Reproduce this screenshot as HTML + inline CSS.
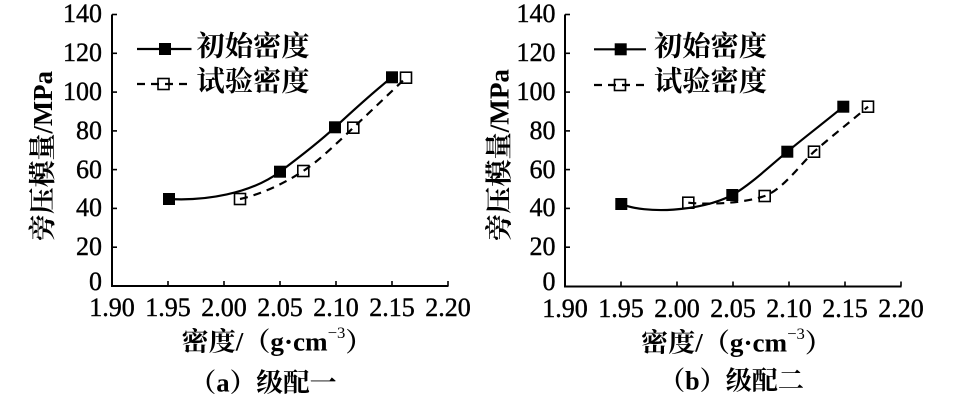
<!DOCTYPE html>
<html>
<head>
<meta charset="utf-8">
<style>
  html, body { margin: 0; padding: 0; background: #fff; }
  #wrap { position: relative; width: 954px; height: 405px; overflow: hidden; }
  svg { display: block; position: absolute; left: 0; top: 0; }
  text, tspan { font-family: "Liberation Serif", "Times New Roman", "Tinos", "DejaVu Serif", "Noto Serif CJK SC", serif; }
  .cjk { font-weight: bold; fill: #000; }
  .n { position: absolute; width: 60px; height: 26px; line-height: 26px; font-size: 26px;
       font-family: "Liberation Serif", "Times New Roman", serif; color: #000;
       -webkit-text-stroke: 0.4px #000; white-space: nowrap; }
  .r { text-align: right; }
  .c { text-align: center; }
</style>
</head>
<body>
<div id="wrap">
<svg width="954" height="405" viewBox="0 0 954 405" xmlns="http://www.w3.org/2000/svg">
  <rect width="954" height="405" fill="#fff"/>

  <!-- ================= Panel (a) ================= -->
  <g>
    <path d="M112,14.5 V286 H448.5" fill="none" stroke="#000" stroke-width="2"/>
    <g stroke="#000" stroke-width="1.6">
      <line x1="112" y1="14.5" x2="117" y2="14.5"/>
      <line x1="112" y1="53.3" x2="117" y2="53.3"/>
      <line x1="112" y1="92.1" x2="117" y2="92.1"/>
      <line x1="112" y1="130.9" x2="117" y2="130.9"/>
      <line x1="112" y1="169.6" x2="117" y2="169.6"/>
      <line x1="112" y1="208.4" x2="117" y2="208.4"/>
      <line x1="112" y1="247.2" x2="117" y2="247.2"/>
      <line x1="168" y1="286" x2="168" y2="281"/>
      <line x1="224" y1="286" x2="224" y2="281"/>
      <line x1="280" y1="286" x2="280" y2="281"/>
      <line x1="336" y1="286" x2="336" y2="281"/>
      <line x1="392" y1="286" x2="392" y2="281"/>
      <line x1="448" y1="286" x2="448" y2="281"/>
    </g>

    <path d="M169,199 C205,201 250,194 280,171.7 C295,160.5 318,143 335,127.3 C352,111.6 372,93 392,77.3"
          fill="none" stroke="#000" stroke-width="2.2"/>
    <path d="M240,199 C262,194 285,183 303.3,171 C320,160 338,142 353.3,127.7 C372,110 390,93 406,77.7"
          fill="none" stroke="#000" stroke-width="2.2" stroke-dasharray="8,6"/>
    <g fill="#000">
      <rect x="163" y="193" width="12" height="12"/>
      <rect x="274" y="165.7" width="12" height="12"/>
      <rect x="329" y="121.3" width="12" height="12"/>
      <rect x="386" y="71.3" width="12" height="12"/>
    </g>
    <g fill="none" stroke="#000" stroke-width="1.6">
      <rect x="234.5" y="193.5" width="11" height="11"/>
      <rect x="297.8" y="165.5" width="11" height="11"/>
      <rect x="347.8" y="122.2" width="11" height="11"/>
      <rect x="400.5" y="72.2" width="11" height="11"/>
    </g>

    <line x1="137" y1="49" x2="191.5" y2="49" stroke="#000" stroke-width="2.2"/>
    <rect x="159" y="43" width="12" height="12" fill="#000"/>
    <line x1="137" y1="84" x2="191.5" y2="84" stroke="#000" stroke-width="2.2" stroke-dasharray="8,6"/>
    <rect x="158" y="78.5" width="11" height="11" fill="none" stroke="#000" stroke-width="1.6"/>
    <text class="cjk" x="196.5" y="47" font-size="28" dominant-baseline="central" textLength="113" lengthAdjust="spacingAndGlyphs">初始密度</text>
    <text class="cjk" x="196.5" y="82" font-size="28" dominant-baseline="central" textLength="113" lengthAdjust="spacingAndGlyphs">试验密度</text>

    <text class="cjk" font-size="27" text-anchor="middle" dominant-baseline="central"
          transform="translate(43,156) rotate(-90)" textLength="170" lengthAdjust="spacingAndGlyphs">旁压模量/MPa</text>

    <text class="cjk" x="277" y="342" font-size="26" text-anchor="middle" dominant-baseline="central"
          textLength="191" lengthAdjust="spacingAndGlyphs">密度/（g·cm<tspan font-size="16" font-weight="normal" dy="-9">−3</tspan><tspan dy="9">）</tspan></text>

    <text class="cjk" x="263" y="383" font-size="26" text-anchor="middle" dominant-baseline="central"
          textLength="147" lengthAdjust="spacingAndGlyphs">（a）级配一</text>
  </g>

  <!-- ================= Panel (b) ================= -->
  <g>
    <path d="M565,14.5 V286.5 H901.5" fill="none" stroke="#000" stroke-width="2"/>
    <g stroke="#000" stroke-width="1.6">
      <line x1="565" y1="14.5" x2="570" y2="14.5"/>
      <line x1="565" y1="53.3" x2="570" y2="53.3"/>
      <line x1="565" y1="92.1" x2="570" y2="92.1"/>
      <line x1="565" y1="130.9" x2="570" y2="130.9"/>
      <line x1="565" y1="169.6" x2="570" y2="169.6"/>
      <line x1="565" y1="208.4" x2="570" y2="208.4"/>
      <line x1="565" y1="247.2" x2="570" y2="247.2"/>
      <line x1="621" y1="286.5" x2="621" y2="281.5"/>
      <line x1="677" y1="286.5" x2="677" y2="281.5"/>
      <line x1="733" y1="286.5" x2="733" y2="281.5"/>
      <line x1="789" y1="286.5" x2="789" y2="281.5"/>
      <line x1="845" y1="286.5" x2="845" y2="281.5"/>
      <line x1="901" y1="286.5" x2="901" y2="281.5"/>
    </g>

    <path d="M621.3,204 C645,214 700,212 732.3,195 C750,185 770,166 787.3,151.7 C805,137 826,121 843.3,106.7"
          fill="none" stroke="#000" stroke-width="2.2"/>
    <path d="M688.3,202.7 C710,205 745,203 764.7,196 C782,190 800,165 814,151.7 C832,136 850,122 868,106.7"
          fill="none" stroke="#000" stroke-width="2.2" stroke-dasharray="8,6"/>
    <g fill="#000">
      <rect x="615.3" y="198" width="12" height="12"/>
      <rect x="726.3" y="189" width="12" height="12"/>
      <rect x="781.3" y="145.7" width="12" height="12"/>
      <rect x="837.3" y="100.7" width="12" height="12"/>
    </g>
    <g fill="none" stroke="#000" stroke-width="1.6">
      <rect x="682.8" y="197.2" width="11" height="11"/>
      <rect x="759.2" y="190.5" width="11" height="11"/>
      <rect x="808.5" y="146.2" width="11" height="11"/>
      <rect x="862.5" y="101.2" width="11" height="11"/>
    </g>

    <line x1="594" y1="49.3" x2="646" y2="49.3" stroke="#000" stroke-width="2.2"/>
    <rect x="614.7" y="43.3" width="12" height="12" fill="#000"/>
    <line x1="594" y1="85" x2="646" y2="85" stroke="#000" stroke-width="2.2" stroke-dasharray="8,6"/>
    <rect x="614.5" y="79.5" width="11" height="11" fill="none" stroke="#000" stroke-width="1.6"/>
    <text class="cjk" x="654" y="47" font-size="28" dominant-baseline="central" textLength="113" lengthAdjust="spacingAndGlyphs">初始密度</text>
    <text class="cjk" x="654" y="82" font-size="28" dominant-baseline="central" textLength="113" lengthAdjust="spacingAndGlyphs">试验密度</text>

    <text class="cjk" font-size="27" text-anchor="middle" dominant-baseline="central"
          transform="translate(499.5,155) rotate(-90)" textLength="172" lengthAdjust="spacingAndGlyphs">旁压模量/MPa</text>

    <text class="cjk" x="736.5" y="343" font-size="26" text-anchor="middle" dominant-baseline="central"
          textLength="191" lengthAdjust="spacingAndGlyphs">密度/（g·cm<tspan font-size="16" font-weight="normal" dy="-9">−3</tspan><tspan dy="9">）</tspan></text>

    <text class="cjk" x="731.5" y="381" font-size="26" text-anchor="middle" dominant-baseline="central"
          textLength="145" lengthAdjust="spacingAndGlyphs">（b）级配二</text>
  </g>
</svg>

<!-- Panel (a) y tick labels (right edge at x=102) -->
<div class="n r" style="left:42px;top:1px">140</div>
<div class="n r" style="left:42px;top:40px">120</div>
<div class="n r" style="left:42px;top:79px">100</div>
<div class="n r" style="left:42px;top:117.5px">80</div>
<div class="n r" style="left:42px;top:156.5px">60</div>
<div class="n r" style="left:42px;top:195px">40</div>
<div class="n r" style="left:42px;top:234px">20</div>
<div class="n r" style="left:42px;top:269px">0</div>
<!-- Panel (a) x tick labels (baseline 317) -->
<div class="n c" style="left:82px;top:295px">1.90</div>
<div class="n c" style="left:138px;top:295px">1.95</div>
<div class="n c" style="left:194px;top:295px">2.00</div>
<div class="n c" style="left:250px;top:295px">2.05</div>
<div class="n c" style="left:306px;top:295px">2.10</div>
<div class="n c" style="left:362px;top:295px">2.15</div>
<div class="n c" style="left:418px;top:295px">2.20</div>

<!-- Panel (b) y tick labels (right edge at x=555.5) -->
<div class="n r" style="left:495.5px;top:1px">140</div>
<div class="n r" style="left:495.5px;top:40px">120</div>
<div class="n r" style="left:495.5px;top:79px">100</div>
<div class="n r" style="left:495.5px;top:117.5px">80</div>
<div class="n r" style="left:495.5px;top:156.5px">60</div>
<div class="n r" style="left:495.5px;top:195px">40</div>
<div class="n r" style="left:495.5px;top:234px">20</div>
<div class="n r" style="left:495.5px;top:269px">0</div>
<!-- Panel (b) x tick labels (baseline 318) -->
<div class="n c" style="left:535px;top:296px">1.90</div>
<div class="n c" style="left:591px;top:296px">1.95</div>
<div class="n c" style="left:647px;top:296px">2.00</div>
<div class="n c" style="left:703px;top:296px">2.05</div>
<div class="n c" style="left:759px;top:296px">2.10</div>
<div class="n c" style="left:815px;top:296px">2.15</div>
<div class="n c" style="left:871px;top:296px">2.20</div>
</div>
</body>
</html>
